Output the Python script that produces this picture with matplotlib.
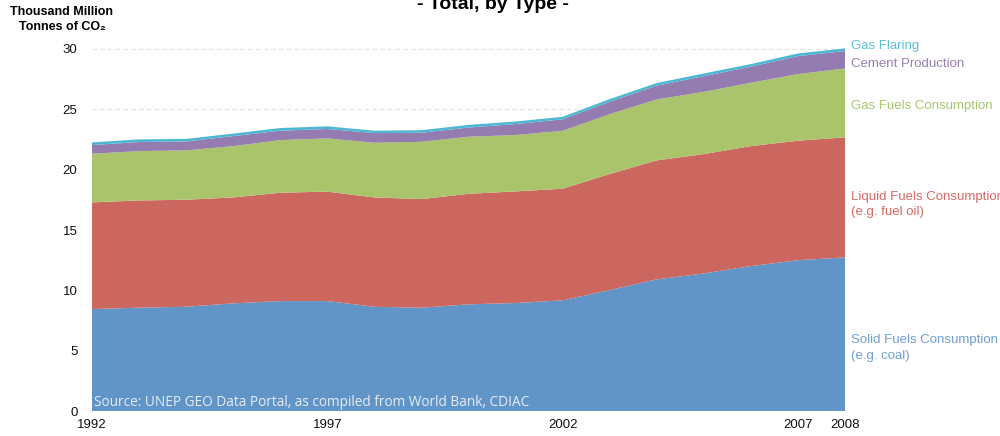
import matplotlib
matplotlib.use("Agg")
import matplotlib.pyplot as plt
import numpy as np

plt.rcParams['font.family'] = ['Liberation Sans', 'DejaVu Sans']

years = list(range(1992, 2009))
solid = [8.45, 8.56, 8.64, 8.92, 9.11, 9.11, 8.64, 8.56, 8.84, 8.95, 9.17, 10.02, 10.91, 11.40, 12.01, 12.50, 12.73]
liquid = [8.84, 8.89, 8.87, 8.78, 8.98, 9.07, 9.06, 9.00, 9.16, 9.25, 9.25, 9.62, 9.86, 9.89, 9.94, 9.90, 9.95]
gas = [4.03, 4.09, 4.09, 4.25, 4.36, 4.41, 4.53, 4.75, 4.73, 4.67, 4.80, 4.96, 5.05, 5.16, 5.25, 5.52, 5.71]
cement = [0.72, 0.75, 0.74, 0.83, 0.78, 0.78, 0.80, 0.75, 0.76, 0.91, 0.95, 1.03, 1.14, 1.30, 1.33, 1.49, 1.44]
flaring = [0.22, 0.22, 0.21, 0.21, 0.22, 0.22, 0.20, 0.21, 0.22, 0.21, 0.21, 0.22, 0.22, 0.22, 0.22, 0.22, 0.22]

series_names = ["Solid Fuels Consumption\n(e.g. coal)", "Liquid Fuels Consumption\n(e.g. fuel oil)",
                "Gas Fuels Consumption", "Cement Production", "Gas Flaring"]
fill_colors = ["#6195C8", "#CC6760", "#AAC46C", "#947BB0", "#4BB7D2"]
text_colors = ["#6E9FD0", "#D46A63", "#A8C56E", "#9680B5", "#5CC0DA"]
xticks = [1992, 1997, 2002, 2007, 2008]
yticks = [0, 5, 10, 15, 20, 25, 30]

fig = plt.figure(figsize=(10, 4.36), dpi=100)
ax = fig.add_axes([0.092, 0.0573, 0.753, 0.858])

ax.stackplot(years, solid, liquid, gas, cement, flaring, colors=fill_colors, zorder=2, linewidth=0)
ax.set_xlim(1992, 2008)
ax.set_ylim(0, 31)
ax.set_yticks(yticks)
ax.set_xticks(xticks)
ax.tick_params(axis='both', length=0, labelsize=9.5, colors='#111111')
ax.tick_params(axis='y', pad=10.5)
ax.tick_params(axis='x', pad=6)
for s in ax.spines.values():
    s.set_visible(False)
ax.yaxis.grid(True, linestyle=(0, (4, 3)), color='#e2e2e2', linewidth=0.8, zorder=0)
ax.set_axisbelow(True)

# right labels
label_y = [5.22, 17.1, 25.27, 28.75, 30.24]
for name, c, yv in zip(series_names, text_colors, label_y):
    ax.text(1.008, yv / 31, name, transform=ax.transAxes, color=c, fontsize=9.5,
            va='center', ha='left', linespacing=1.4)

ax.text(1992.05, 0.7, "Source: UNEP GEO Data Portal, as compiled from World Bank, CDIAC",
        color='#e6edf6', fontsize=9.8, family=['Open Sans', 'DejaVu Sans'], va='center', ha='left', zorder=5)

fig.text(0.062, 0.972, "Thousand Million", fontsize=9, fontweight='bold', ha='center', va='center')
fig.text(0.062, 0.937, "Tonnes of CO\u2082", fontsize=9, fontweight='bold', ha='center', va='center')
fig.text(0.493, 0.99, "- Total, by Type -", fontsize=14, fontweight='bold', ha='center', va='center')

fig.savefig("out.png", dpi=100)
